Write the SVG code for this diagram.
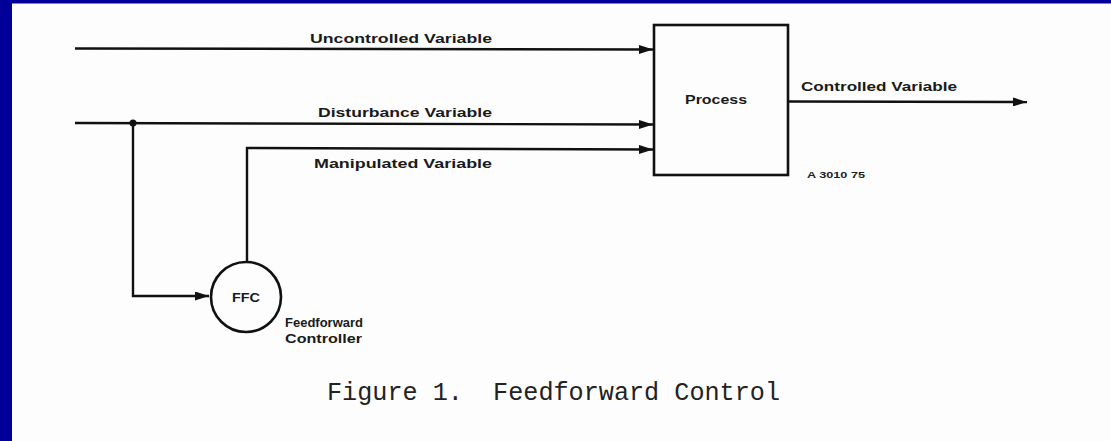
<svg xmlns="http://www.w3.org/2000/svg" width="1111" height="441" viewBox="0 0 1111 441">
<defs>
<style>
.ln{fill:none;stroke:#111;stroke-width:2.4;stroke-linejoin:miter}
.lbl{font-family:"Liberation Sans",Arial,sans-serif;font-weight:bold;font-size:13px;fill:#1a1a1a}
.sm{font-size:12px}
.cap{font-family:"Liberation Mono","Courier New",monospace;font-size:25px;fill:#222;white-space:pre}
</style>
<marker id="arr" viewBox="0 0 14 9" refX="14" refY="4.5" markerWidth="14" markerHeight="9" markerUnits="userSpaceOnUse" orient="auto">
<path d="M0,0 L14,4.5 L0,9 Z" fill="#111"/>
</marker>
</defs>
<rect x="0" y="0" width="1111" height="441" fill="#fdfdfd"/>
<rect x="0" y="0" width="1111" height="3.5" fill="#000099"/>
<rect x="0" y="0" width="12" height="441" fill="#000099"/>

<g id="connectors">
<path class="ln" d="M75,48.5 L653,49.5" marker-end="url(#arr)"/>
<path class="ln" d="M75,123 L653,124.5" marker-end="url(#arr)"/>
<path class="ln" d="M133,123 L133,296 L209,296" marker-end="url(#arr)"/>
<circle cx="133" cy="123" r="3.5" fill="#111"/>
<path class="ln" d="M247,262 L247,148 L653,149.5" marker-end="url(#arr)"/>
<path class="ln" d="M788,101.5 L1027,102" marker-end="url(#arr)"/>
</g>

<g id="label-uncontrolled"><text class="lbl" x="310" y="43" textLength="182" lengthAdjust="spacingAndGlyphs">Uncontrolled Variable</text></g>
<g id="label-disturbance"><text class="lbl" x="318" y="117" textLength="174" lengthAdjust="spacingAndGlyphs">Disturbance Variable</text></g>
<g id="label-manipulated"><text class="lbl" x="314" y="168" textLength="178" lengthAdjust="spacingAndGlyphs">Manipulated Variable</text></g>
<g id="label-controlled"><text class="lbl" x="801" y="91" textLength="156" lengthAdjust="spacingAndGlyphs">Controlled Variable</text></g>

<g id="process">
<rect x="654" y="25" width="134" height="150" fill="none" stroke="#111" stroke-width="2.6"/>
<text class="lbl" x="685" y="104" textLength="62" lengthAdjust="spacingAndGlyphs">Process</text>
<text x="807" y="178" font-family="'Liberation Sans',Arial,sans-serif" font-weight="bold" font-size="9" fill="#222" textLength="58" lengthAdjust="spacingAndGlyphs">A 3010 75</text>
</g>

<g id="ffc">
<circle cx="246" cy="297" r="35" fill="none" stroke="#111" stroke-width="2.6"/>
<text class="lbl" x="246" y="302" text-anchor="middle" textLength="28" lengthAdjust="spacingAndGlyphs">FFC</text>
<text class="lbl sm" x="285" y="327" textLength="78" lengthAdjust="spacingAndGlyphs">Feedforward</text>
<text class="lbl sm" x="285" y="343" textLength="77" lengthAdjust="spacingAndGlyphs">Controller</text>
</g>

<g id="caption"><text class="cap" x="327" y="400" textLength="453" lengthAdjust="spacingAndGlyphs">Figure 1.  Feedforward Control</text></g>
</svg>
